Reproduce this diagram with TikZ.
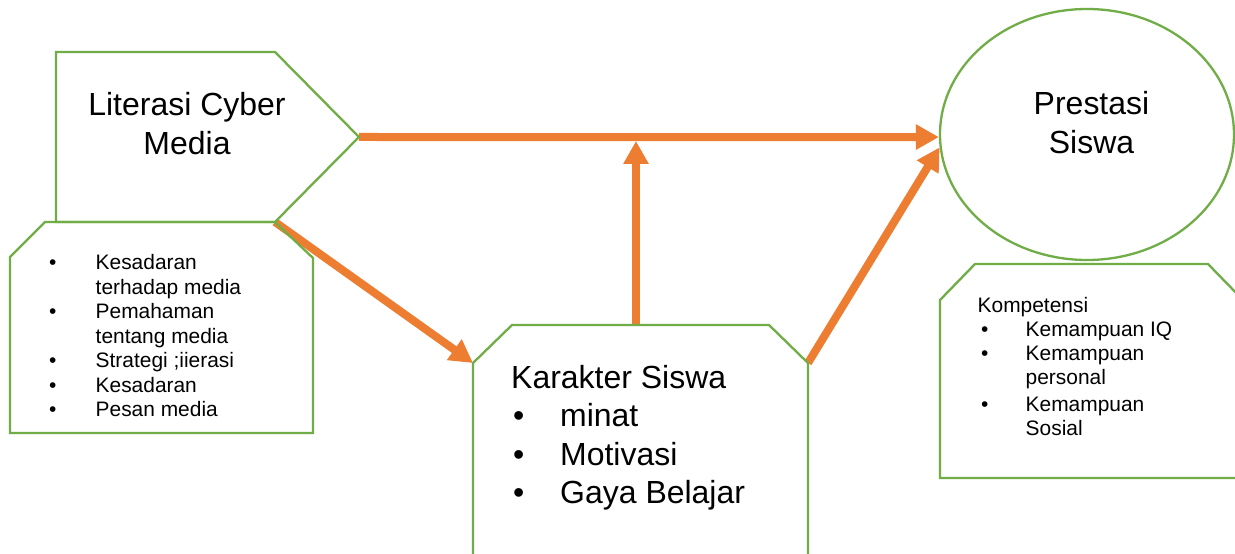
\documentclass[tikz,border=0pt]{standalone}
\usepackage{fontspec}
\setmainfont{Liberation Sans}
\usetikzlibrary{arrows.meta,shapes.geometric}
\definecolor{framegreen}{HTML}{70AD47}
\definecolor{linkorange}{HTML}{ED7D31}
\tikzset{
  frame/.style={draw=framegreen, line width=2.3bp, line join=miter},
  link/.style={draw=linkorange, line width=8bp, -{Triangle[length=23bp,width=24bp]}},
  bigtext/.style={font=\fontsize{32.1}{38.8}\selectfont, inner sep=0pt},
  smalltext/.style={font=\fontsize{21}{24.5}\selectfont, inner sep=0pt},
}
\begin{document}
\begin{tikzpicture}[x=1bp,y=-1bp]
\fill[white] (0,0) rectangle (1235,554);
\useasboundingbox (0,0) rectangle (1235,554);
\clip (0,0) rectangle (1235,554);

% corner points of the framed shapes
\coordinate (litTL) at (56,52);
\coordinate (litTR) at (275,52);
\coordinate (litTip) at (359,137);
\coordinate (litBR) at (275,222);
\coordinate (litBL) at (56,222);
\coordinate (karTL) at (473,363);
\coordinate (karTop) at (636,325);
\coordinate (karTR) at (808,363);
\coordinate (join) at (636,141);

% Prestasi Siswa ellipse
\node[frame, ellipse, inner sep=0pt, minimum width=294bp, minimum height=251bp] (pres) at (1087,134.5) {};

% connectors
\draw[link] (litTip) -- (pres.181.4);
\draw[link] (litBR) -- (karTL);
\draw[link] (karTop) -- (join);
\draw[link] (karTR) -- (pres.185.3);

% Literasi Cyber Media (pentagon)
\draw[frame] (litTL) -- (litTR) -- (litTip) -- (litBR) -- (litBL) -- cycle;
% indicator box below it
\draw[frame] (45,222) -- (litBR) -- (313,258) -- (313,433) -- (10,433) -- (10,257) -- cycle;
% Karakter Siswa box (runs past the lower edge)
\draw[frame] (473,570) -- (karTL) -- (512,325) -- (769,325) -- (karTR) -- (808,570);
% Kompetensi box (runs past the right edge)
\draw[frame] (975,264) -- (1208,264) -- (1245,302) -- (1245,478) -- (940,478) -- (940,300) -- cycle;

% texts
\node[bigtext, anchor=base] (littxt) at (187,116)
  {\begin{tabular}[t]{@{}c@{}}Literasi Cyber\\Media\end{tabular}};
\node[bigtext, anchor=base] (prestxt) at (1091.5,115)
  {\begin{tabular}[t]{@{}c@{}}Prestasi\\Siswa\end{tabular}};
\node[smalltext, anchor=base west] (skills) at (49,270)
  {\begin{tabular}[t]{@{}p{46.5bp}@{}l@{}}
   \textbullet & Kesadaran\\
               & terhadap media\\
   \textbullet & Pemahaman\\
               & tentang media\\
   \textbullet & Strategi ;iierasi\\
   \textbullet & Kesadaran\\
   \textbullet & Pesan media
   \end{tabular}};
\node[bigtext, anchor=base west] (kartxt) at (511,388)
  {\begin{tabular}[t]{@{}p{49bp}@{}l@{}}
   \multicolumn{2}{@{}l@{}}{Karakter Siswa}\\
   \hspace*{2bp}\textbullet & minat\\
   \hspace*{2bp}\textbullet & Motivasi\\
   \hspace*{2bp}\textbullet & Gaya Belajar
   \end{tabular}};
\node[smalltext, anchor=base west] (komptxt) at (977.5,313)
  {\begin{tabular}[t]{@{}p{48bp}@{}l@{}}
   \multicolumn{2}{@{}l@{}}{Kompetensi}\\[-0.5bp]
   \hspace*{3.5bp}\textbullet & Kemampuan IQ\\[-0.5bp]
   \hspace*{3.5bp}\textbullet & Kemampuan\\[-0.5bp]
               & personal\\[2.5bp]
   \hspace*{3.5bp}\textbullet & Kemampuan\\[-0.5bp]
               & Sosial
   \end{tabular}};
\end{tikzpicture}
\end{document}
